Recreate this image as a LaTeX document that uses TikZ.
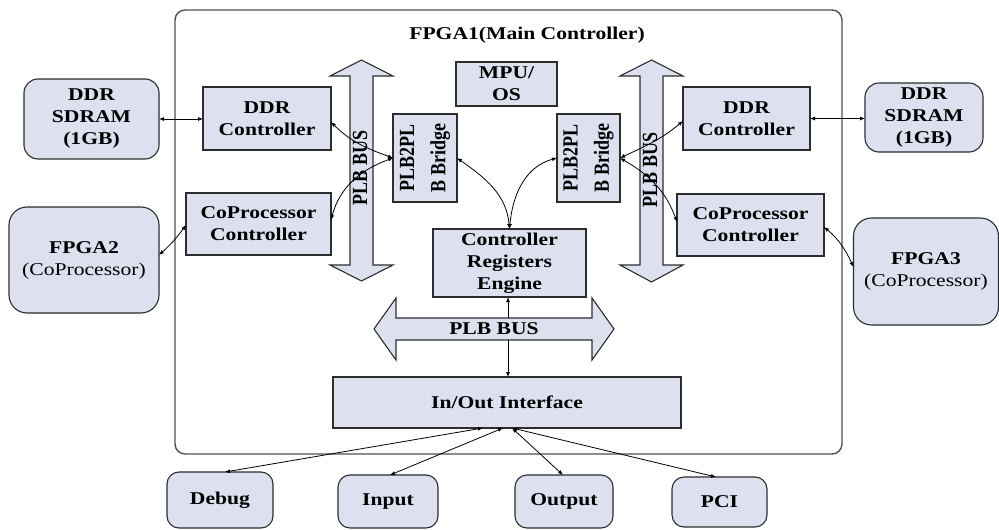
\documentclass[tikz,border=0pt]{standalone}
\usepackage{fontspec}
\setmainfont{Liberation Serif}[FakeStretch=1.2]
\newfontfamily\rotfont{Liberation Serif}
\usetikzlibrary{arrows.meta}
\definecolor{boxfill}{RGB}{221,225,239}
\definecolor{edge}{RGB}{45,45,45}
\definecolor{framecol}{RGB}{80,80,80}

\begin{document}
\begin{tikzpicture}[x=1pt,y=-1pt,
  mainframe/.style={draw=framecol, line width=1.4pt, rounded corners=10pt, inner sep=0pt, outer sep=0pt},
  blk/.style={draw=edge, line width=1.1pt, fill=boxfill, inner sep=0pt, outer sep=0pt,
    align=center, font=\fontsize{18}{22}\selectfont\bfseries},
  ext/.style={blk, rounded corners=14pt},
  fpgabox/.style={blk, rounded corners=18pt},
  iobox/.style={blk, rounded corners=12pt},
  rottext/.style={font=\rotfont\fontsize{18}{26}\selectfont\bfseries, align=center,
    rotate=90, yscale=1.2, inner sep=0pt},
  lbl/.style={font=\fontsize{18}{22}\selectfont\bfseries, inner sep=0pt},
  bus/.style={draw=edge, line width=1.1pt, fill=boxfill},
  link/.style={line width=0.8pt, {Latex[length=5pt,width=4pt]}-{Latex[length=5pt,width=4pt]}},
  uplink/.style={line width=0.8pt, -{Latex[length=5pt,width=4pt]}},
]
\useasboundingbox (0,0) rectangle (999,530);

% FPGA1 container and its title
\node[mainframe, minimum width=667pt, minimum height=444pt] (fpga1) at (508.5,232) {};
\node[lbl] (title) at (527,35) {FPGA1(Main Controller)};

% PLB buses
\path[bus] (361.5,60) -- (393,76) -- (373,76) -- (373,265) -- (393,265) -- (361.5,281)
  -- (330,265) -- (350,265) -- (350,76) -- (330,76) -- cycle;
\path[bus] (651.5,60) -- (683,76) -- (663,76) -- (663,265) -- (683,265) -- (651.5,282)
  -- (620,265) -- (640,265) -- (640,76) -- (620,76) -- cycle;
\path[bus] (374,329) -- (396,298) -- (396,318) -- (592,318) -- (592,298) -- (614,329)
  -- (592,360) -- (592,340) -- (396,340) -- (396,360) -- cycle;
\node[rottext] (busl) at (360,168) {PLB BUS};
\node[rottext] (busr) at (650,170) {PLB BUS};
\node[lbl] (busm) at (494,329) {PLB BUS};
\coordinate (hbt) at (508,318);
\coordinate (hbb) at (508,340);

% external memories and coprocessors
\node[ext, minimum width=135pt, minimum height=80pt] (sdl) at (91.5,119) {DDR\\SDRAM\\(1GB)};
\node[fpgabox, minimum width=150pt, minimum height=106pt] (fp2) at (84,260)
  {FPGA2\\\mdseries(CoProcessor)};
\node[ext, minimum width=118pt, minimum height=69pt] (sdr) at (924,117.5) {DDR\\SDRAM\\(1GB)};
\node[fpgabox, minimum width=145pt, minimum height=107pt] (fp3) at (926,271.5)
  {FPGA3\\\mdseries(CoProcessor)};

% blocks inside FPGA1
\node[blk, minimum width=128pt, minimum height=63pt] (dcl) at (267,118.5) {DDR\\Controller};
\node[blk, minimum width=145pt, minimum height=62pt] (ccl) at (258.5,224) {CoProcessor\\Controller};
\node[blk, minimum width=101pt, minimum height=44pt] (mpu) at (506.5,84) {MPU/\\OS};
\node[blk, minimum width=64pt, minimum height=88pt] (brl) at (425,158) {};
\node[rottext] (brlt) at (brl) {PLB2PL\\B Bridge};
\node[blk, minimum width=63pt, minimum height=88pt] (brr) at (588.5,158) {};
\node[rottext] (brrt) at (brr) {PLB2PL\\B Bridge};
\node[blk, minimum width=153pt, minimum height=68pt] (cre) at (509.5,263)
  {Controller\\Registers\\Engine};
\node[blk, minimum width=127pt, minimum height=63pt] (dcr) at (746.5,118.5) {DDR\\Controller};
\node[blk, minimum width=147pt, minimum height=62pt] (ccr) at (750.5,225) {CoProcessor\\Controller};
\node[blk, minimum width=348pt, minimum height=51pt] (io) at (507,402.5) {In/Out Interface};

% peripherals
\node[iobox, minimum width=106pt, minimum height=56pt] (dbg) at (220,500) {Debug};
\node[iobox, minimum width=100pt, minimum height=53pt] (inp) at (388,501.5) {Input};
\node[iobox, minimum width=98pt, minimum height=53pt] (out) at (564,501.5) {Output};
\node[iobox, minimum width=95pt, minimum height=50pt] (pci) at (719.5,502) {PCI};

% connections
\draw[link] (sdl.east) -- (sdl.east -| dcl.west);
\draw[link] ([yshift=5pt]fp2.east) to[bend right=6] ([yshift=-1pt]ccl.west);
\draw[link] ([yshift=-3.5pt]dcl.east) to[out=-45,in=160] (brl.west);
\draw[link] ([yshift=4pt]ccl.east) to[out=75,in=200] (brl.west);
\draw[link] (brl.east) to[out=-35,in=95] (cre.north);
\draw[link] (brr.west) to[out=195,in=85] (cre.north);
\draw[link] (brr.east) to[out=25,in=220] ([yshift=-2.5pt]dcr.west);
\draw[link] (brr.east) to[out=-30,in=110] ([yshift=3pt]ccr.west);
\draw[link] (dcr.east) -- (dcr.east -| sdr.west);
\draw[link] ([yshift=-2pt]ccr.east) to[out=-40,in=115] ([yshift=4.5pt]fp3.west);
\draw[uplink] (hbt) -- (hbt |- cre.south);
\draw[uplink] (hbb) -- (hbb |- io.north);
\draw[link] ([xshift=-24pt]io.south) -- ([xshift=5pt]dbg.north);
\draw[link] ([xshift=-4pt]io.south) -- ([xshift=2pt]inp.north);
\draw[link] ([xshift=5pt]io.south) -- ([xshift=-1pt]out.north);
\draw[link] ([xshift=5pt]io.south) -- ([xshift=-3.5pt]pci.north);
\end{tikzpicture}
\end{document}
